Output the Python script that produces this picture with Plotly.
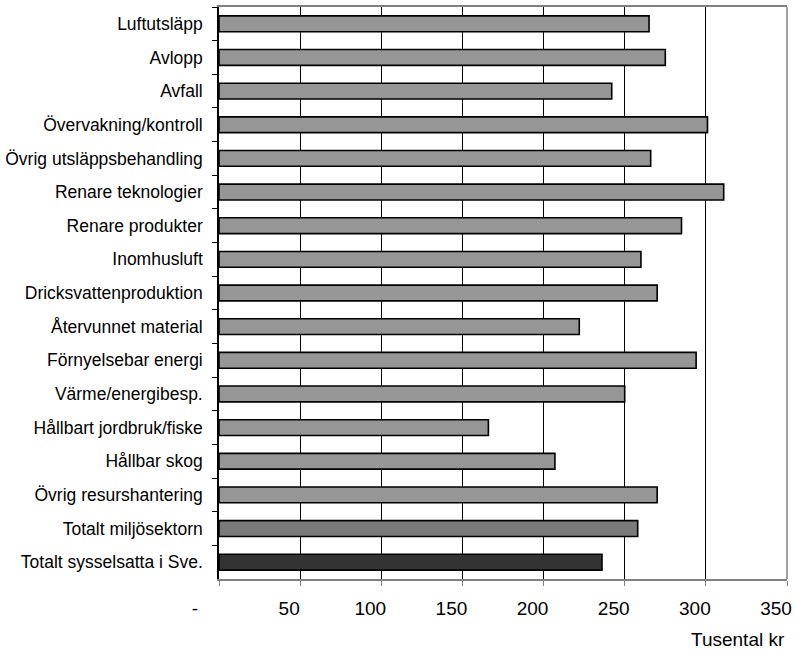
import plotly.graph_objects as go

categories = [
    "Luftutsläpp", "Avlopp", "Avfall", "Övervakning/kontroll",
    "Övrig utsläppsbehandling", "Renare teknologier", "Renare produkter",
    "Inomhusluft", "Dricksvattenproduktion", "Återvunnet material",
    "Förnyelsebar energi", "Värme/energibesp.", "Hållbart jordbruk/fiske",
    "Hållbar skog", "Övrig resurshantering", "Totalt miljösektorn",
    "Totalt sysselsatta i Sve.",
]
values = [265, 275, 242, 301, 266, 311, 285, 260, 270, 222,
          294, 250, 166, 207, 270, 258, 236]
bar_colors = ["#969696"] * 15 + ["#7a7a7a", "#333333"]

tick_vals = [0, 50, 100, 150, 200, 250, 300, 350]
tick_text = ["-\u00a0\u00a0\u00a0\u00a0\u00a0", "50", "100", "150", "200", "250", "300", "350"]
axis_title = "Tusental kr"

FONT = "Liberation Sans, Arial, sans-serif"

fig = go.Figure()
fig.add_trace(go.Bar(
    y=categories, x=values, orientation="h",
    marker=dict(color=bar_colors, line=dict(color="black", width=1.6)),
    width=0.47,
))

fig.update_layout(
    width=795, height=651,
    margin=dict(l=219, r=8, t=7, b=72, autoexpand=False),
    plot_bgcolor="white", paper_bgcolor="white",
    showlegend=False,
    font=dict(family=FONT, color="black"),
    xaxis=dict(
        range=[0, 350], tickvals=tick_vals, ticktext=tick_text,
        showgrid=True, gridcolor="black", gridwidth=1,
        showline=True, linecolor="#808080", linewidth=1.5, mirror=True,
        ticks="outside", ticklen=5, tickcolor="#808080",
        tickfont=dict(size=19, family=FONT), ticklabelshift=-11,
        ticklabelstandoff=6,
        zeroline=False, automargin=False,
    ),
    yaxis=dict(
        categoryorder="array", categoryarray=categories, autorange="reversed",
        showline=True, linecolor="black", linewidth=1.5,
        ticks="outside", ticklen=5, tickcolor="black", tickson="boundaries",
        tickfont=dict(size=17.5, family=FONT), ticklabelstandoff=11,
        showgrid=False, automargin=False,
    ),
    shapes=[dict(type="line", xref="x domain", yref="y domain",
                 x0=1, x1=1, y0=0, y1=1, line=dict(color="#808080", width=1.5),
                 layer="above")],
    annotations=[dict(text=axis_title, xref="paper", yref="paper",
                      x=1.0, y=-0.106, xanchor="right", yanchor="middle",
                      showarrow=False, font=dict(size=19, family=FONT))],
)
fig.write_html(
    "out.html",
    config={"displayModeBar": False},
    post_script="document.body.style.margin='0';document.body.style.padding='0';",
)
